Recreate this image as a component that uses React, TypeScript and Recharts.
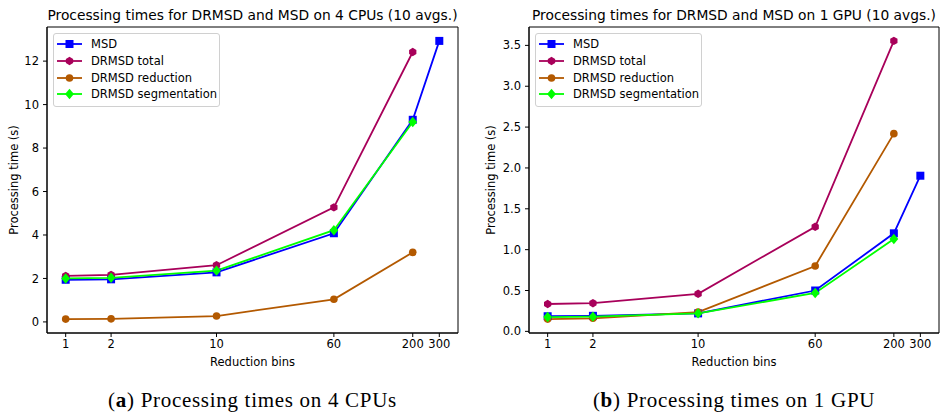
import React from "react";
import {
  LineChart,
  Line,
  XAxis,
  YAxis,
  Legend,
  ReferenceArea,
} from "recharts";

// Reduction bins on the x axis (log scale)
const BINS = [1, 2, 10, 60, 200];
const MSD_BINS = [1, 2, 10, 60, 200, 300];
const X_TICKS = [1, 2, 10, 60, 200, 300];

// 4 CPUs (seconds)
const CPU_MSD = [1.94, 1.96, 2.28, 4.08, 9.3, 12.93];
const CPU_TOTAL = [2.12, 2.16, 2.61, 5.27, 12.42];
const CPU_REDUCTION = [0.13, 0.14, 0.27, 1.04, 3.2];
const CPU_SEGMENTATION = [2.0, 2.03, 2.36, 4.22, 9.2];
const CPU_Y_TICKS = [0, 2, 4, 6, 8, 10, 12];

// 1 GPU (seconds)
const GPU_MSD = [0.185, 0.19, 0.22, 0.5, 1.2, 1.905];
const GPU_TOTAL = [0.335, 0.345, 0.46, 1.28, 3.555];
const GPU_REDUCTION = [0.15, 0.16, 0.235, 0.8, 2.42];
const GPU_SEGMENTATION = [0.175, 0.18, 0.22, 0.47, 1.13];
const GPU_Y_TICKS = [0, 0.5, 1, 1.5, 2, 2.5, 3, 3.5];

const X_DOMAIN = [0.7518, 399.1];

const BLUE = "#0000ff";
const CRIMSON = "#a8005a";
const BROWN = "#b35900";
const LIME = "#00ff00";

const SANS = "DejaVu Sans";

type Shape = "square" | "hexagon" | "circle" | "diamond";

function markerPath(shape: Shape, cx: number, cy: number) {
  if (shape === "hexagon") {
    const r = 4.2;
    const pts = [];
    for (let i = 0; i < 6; i++) {
      const a = (Math.PI / 3) * i - Math.PI / 2;
      pts.push(`${cx + r * Math.cos(a)},${cy + r * Math.sin(a)}`);
    }
    return "M" + pts.join("L") + "Z";
  }
  if (shape === "diamond") {
    const r = 5.2;
    return `M${cx},${cy - r}L${cx + r * 0.85},${cy}L${cx},${cy + r}L${cx - r * 0.85},${cy}Z`;
  }
  return "";
}

function Marker({ shape, cx, cy, color }: { shape: Shape; cx: number; cy: number; color: string }) {
  if (shape === "square") {
    return <rect x={cx - 4} y={cy - 4} width={8} height={8} fill={color} />;
  }
  if (shape === "circle") {
    return <circle cx={cx} cy={cy} r={3.8} fill={color} />;
  }
  return <path d={markerPath(shape, cx, cy)} fill={color} />;
}

const makeDot = (shape: Shape, color: string) => (p: any) => {
  if (p.cx == null || p.cy == null) return <g key={p.index} />;
  return <Marker key={p.index} shape={shape} cx={p.cx} cy={p.cy} color={color} />;
};

const SERIES = [
  { name: "MSD", color: BLUE, shape: "square" as Shape },
  { name: "DRMSD total", color: CRIMSON, shape: "hexagon" as Shape },
  { name: "DRMSD reduction", color: BROWN, shape: "circle" as Shape },
  { name: "DRMSD segmentation", color: LIME, shape: "diamond" as Shape },
];

function LegendBox() {
  return (
    <div
      style={{
        width: 165,
        border: "1px solid #d0d0d0",
        borderRadius: 3,
        background: "rgba(255,255,255,0.8)",
        padding: "2px 0 3px 0",
        fontFamily: SANS,
        fontSize: 11.5,
        color: "#000",
      }}
    >
      {SERIES.map((s) => (
        <div key={s.name} style={{ display: "flex", alignItems: "center", height: 16.7 }}>
          <svg width={36} height={14} style={{ flex: "none" }}>
            <line x1={3} x2={28} y1={7} y2={7} stroke={s.color} strokeWidth={1.8} />
            <Marker shape={s.shape} cx={15.5} cy={7} color={s.color} />
          </svg>
          <span style={{ marginLeft: 1 }}>{s.name}</span>
        </div>
      ))}
    </div>
  );
}

const zip = (xs: number[], ys: number[]) => xs.map((x, i) => ({ x, y: ys[i] }));

interface PanelProps {
  left: number;
  yAxisWidth: number;
  labelOffset: number;
  marginRight: number;
  title: string;
  letter: string;
  caption: string;
  msd: number[];
  total: number[];
  reduction: number[];
  segmentation: number[];
  yDomain: number[];
  yTicks: number[];
  yFmt: (v: number) => string;
}

function Panel(props: PanelProps) {
  const { left, yAxisWidth, labelOffset, marginRight, title, letter, caption, yDomain, yTicks, yFmt } = props;
  const plotLeft = yAxisWidth;
  const plotRight = 471 - marginRight;
  const center = (plotLeft + plotRight) / 2;
  const tickStyle = { fontFamily: SANS, fontSize: 11.5, fill: "#000" };
  const lines = [
    { ...SERIES[0], data: zip(MSD_BINS, props.msd) },
    { ...SERIES[1], data: zip(BINS, props.total) },
    { ...SERIES[2], data: zip(BINS, props.reduction) },
    { ...SERIES[3], data: zip(BINS, props.segmentation) },
  ];
  return (
    <div style={{ position: "absolute", left, top: 0, width: 471, height: 415 }}>
      <div
        style={{
          position: "absolute",
          left: center - 250,
          width: 500,
          top: 7,
          textAlign: "center",
          fontFamily: SANS,
          fontSize: 13.8,
          lineHeight: "17px",
          color: "#000",
          whiteSpace: "nowrap",
        }}
      >
        {title}
      </div>
      <LineChart
        width={471}
        height={380}
        margin={{ top: 27, right: marginRight, bottom: 7, left: 0 }}
        style={{ position: "absolute", left: 0, top: 0 }}
      >
        <ReferenceArea
          x1={X_DOMAIN[0]}
          x2={X_DOMAIN[1]}
          y1={yDomain[0]}
          y2={yDomain[1]}
          fill="none"
          stroke="#000"
          strokeWidth={1}
          fillOpacity={0}
          ifOverflow="visible"
        />
        <XAxis
          dataKey="x"
          type="number"
          scale="log"
          domain={X_DOMAIN}
          allowDataOverflow
          ticks={X_TICKS}
          interval={0}
          height={40}
          tickSize={4}
          tickMargin={3}
          stroke="#000"
          tick={tickStyle}
          label={{
            value: "Reduction bins",
            position: "insideBottom",
            offset: 7,
            style: { fontFamily: SANS, fontSize: 11.5, fill: "#000" },
          }}
        />
        <YAxis
          type="number"
          domain={yDomain}
          allowDataOverflow
          ticks={yTicks}
          interval={0}
          width={yAxisWidth}
          tickSize={4}
          tickMargin={4}
          stroke="#000"
          tick={tickStyle}
          tickFormatter={yFmt}
          label={{
            value: "Processing time (s)",
            angle: -90,
            position: "insideLeft",
            offset: labelOffset,
            style: { fontFamily: SANS, fontSize: 11.5, fill: "#000", textAnchor: "middle" },
          }}
        />
        {lines.map((l) => (
          <Line
            key={l.name}
            data={l.data}
            dataKey="y"
            name={l.name}
            stroke={l.color}
            strokeWidth={1.8}
            dot={makeDot(l.shape, l.color)}
            activeDot={false}
            isAnimationActive={false}
          />
        ))}
        <Legend
          layout="vertical"
          align="center"
          verticalAlign="middle"
          wrapperStyle={{ left: plotLeft + 6, top: 33, width: 167 }}
          content={() => <LegendBox />}
        />
      </LineChart>
      <div
        style={{
          position: "absolute",
          left: center - 200,
          width: 400,
          top: 387,
          textAlign: "center",
          fontFamily: "Liberation Serif",
          fontSize: 21,
          letterSpacing: 0.7,
          lineHeight: "26px",
          color: "#000",
          whiteSpace: "nowrap",
        }}
      >
        (<b>{letter}</b>) {caption}
      </div>
    </div>
  );
}

export default function App() {
  return (
    <div
      style={{
        position: "absolute",
        left: 0,
        top: 0,
        width: 942,
        height: 415,
        background: "#fff",
        overflow: "hidden",
      }}
    >
      <Panel
        left={0}
        yAxisWidth={47}
        labelOffset={14}
        marginRight={13}
        title="Processing times for DRMSD and MSD on 4 CPUs (10 avgs.)"
        letter="a"
        caption="Processing times on 4 CPUs"
        msd={CPU_MSD}
        total={CPU_TOTAL}
        reduction={CPU_REDUCTION}
        segmentation={CPU_SEGMENTATION}
        yDomain={[-0.51, 13.57]}
        yTicks={CPU_Y_TICKS}
        yFmt={(v) => String(v)}
      />
      <Panel
        left={471}
        yAxisWidth={58}
        labelOffset={20}
        marginRight={3}
        title="Processing times for DRMSD and MSD on 1 GPU (10 avgs.)"
        letter="b"
        caption="Processing times on 1 GPU"
        msd={GPU_MSD}
        total={GPU_TOTAL}
        reduction={GPU_REDUCTION}
        segmentation={GPU_SEGMENTATION}
        yDomain={[-0.02, 3.725]}
        yTicks={GPU_Y_TICKS}
        yFmt={(v) => v.toFixed(1)}
      />
    </div>
  );
}
